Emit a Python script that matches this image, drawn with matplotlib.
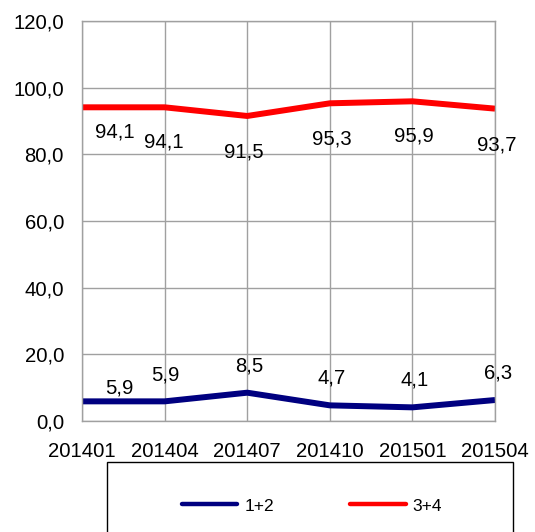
import matplotlib
matplotlib.use("Agg")
import matplotlib.pyplot as plt
from matplotlib.patches import Rectangle

plt.rcParams['font.family'] = ['Liberation Sans', 'DejaVu Sans']

periods = ['201401', '201404', '201407', '201410', '201501', '201504']
share_12 = [5.9, 5.9, 8.5, 4.7, 4.1, 6.3]
share_34 = [94.1, 94.1, 91.5, 95.3, 95.9, 93.7]
y_ticks = [0, 20, 40, 60, 80, 100, 120]

# label offsets in pixels (Excel moved the first labels a bit)
off_12 = [(37, 13), (1, 26), (2, 27), (2, 27), (2, 27), (3, 27)]
off_34 = [(33, -25), (-1, -35), (-3, -36), (2, -36), (1, -35), (2, -36)]

fig = plt.figure(figsize=(5.35, 5.32), dpi=100)
ax = fig.add_axes([0.1533, 0.2086, 0.772, 0.752])

x = range(len(periods))
ax.plot(x, share_12, color='#000080', lw=4.3, label='1+2', solid_capstyle='butt')
ax.plot(x, share_34, color='#FF0000', lw=4.3, label='3+4', solid_capstyle='butt')

def fmt(v):
    return f'{v:.1f}'.replace('.', ',')

px = 72 / 100  # pixel -> points
for i, v in enumerate(share_12):
    ax.annotate(fmt(v), (i, v), xytext=(off_12[i][0] * px, off_12[i][1] * px),
                textcoords='offset points', ha='center', va='center', fontsize=14.6)
for i, v in enumerate(share_34):
    ax.annotate(fmt(v), (i, v), xytext=(off_34[i][0] * px, off_34[i][1] * px),
                textcoords='offset points', ha='center', va='center', fontsize=14.6)

ax.set_xlim(0, len(periods) - 1)
ax.set_ylim(0, 120)
ax.set_xticks(list(x))
ax.set_xticklabels(periods)
ax.set_yticks(y_ticks)
ax.set_yticklabels([fmt(t) for t in y_ticks])
ax.tick_params(length=0, labelsize=14.6)
ax.tick_params(axis='y', pad=13)
ax.tick_params(axis='x', pad=15)
ax.grid(True, color='#A0A0A0', lw=1.0)
ax.set_axisbelow(True)
for s in ax.spines.values():
    s.set_color('#A0A0A0')
    s.set_linewidth(1.0)

fig.patches.append(Rectangle((0.2, -0.05), 0.759, 0.1816, transform=fig.transFigure,
                             fill=False, edgecolor='black', lw=1.0))
leg = fig.legend(loc='center', bbox_to_anchor=(0.583, 0.049), ncol=2, frameon=False,
                 fontsize=12.5, handlelength=3.2, handletextpad=0.4, columnspacing=4.4)
for ln in leg.get_lines():
    ln.set_linewidth(3.2)
    ln.set_solid_capstyle('round')

fig.savefig('out.png', dpi=100)
